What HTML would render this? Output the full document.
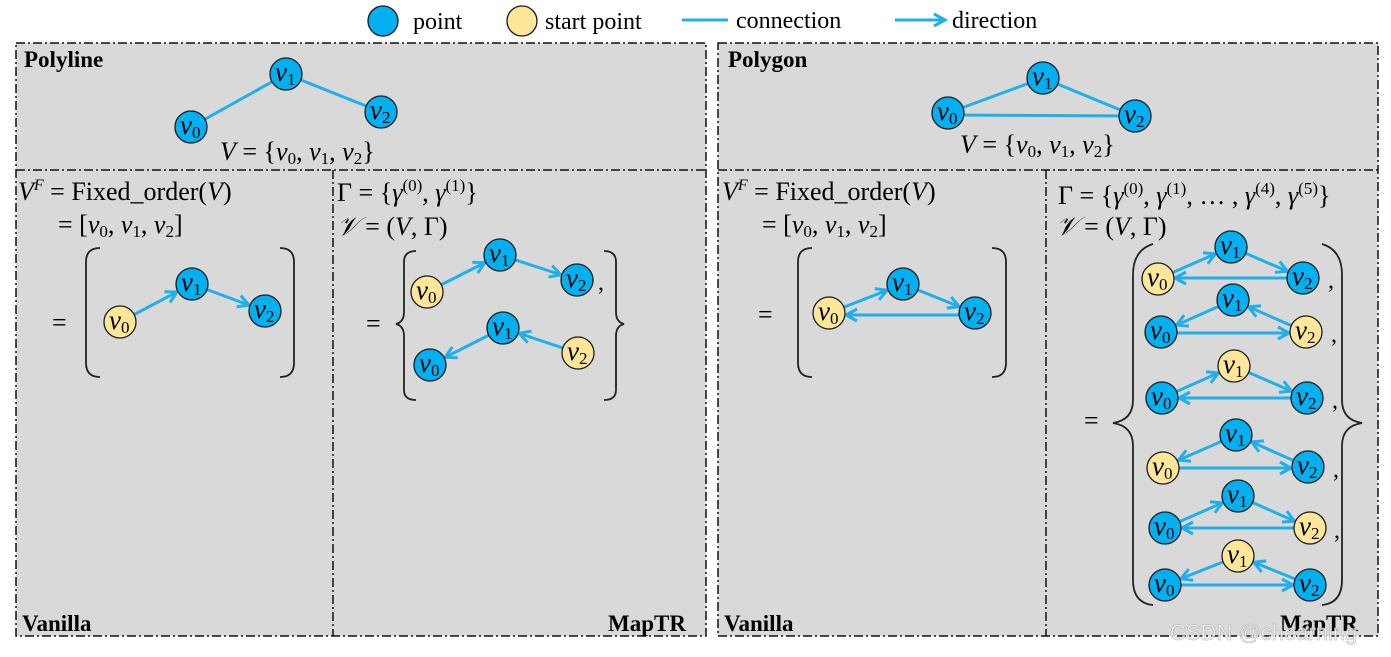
<!DOCTYPE html>
<html><head><meta charset="utf-8"><style>
html,body{margin:0;padding:0;background:#fff;}
svg{display:block;font-family:"Liberation Serif",serif;}
.n{stroke:#1a1a1a;stroke-width:1.3}
.b{fill:#00b0f0}.y{fill:#ffe699}
.l{stroke:#1fb0ec;stroke-width:3;fill:none}
.a{stroke:#1fb0ec;stroke-width:3;fill:none;marker-end:url(#ar)}
.t{font-size:27px;font-style:italic}
.t tspan{font-size:17px;font-style:normal}
.m{font-size:24px}
.q{font-size:26px}
.bd{font-weight:bold;font-size:23px}
.br{stroke:#222;stroke-width:1.8;fill:none}
</style></head><body>
<svg width="1391" height="657" viewBox="0 0 1391 657">
<defs>
<marker id="ar" markerUnits="userSpaceOnUse" markerWidth="60" markerHeight="14" refX="47" refY="7" orient="auto" overflow="visible">
<path d="M19,1 L30,7 L19,13" stroke="#1fb0ec" stroke-width="3" fill="none"/>
</marker>
<marker id="ar2" markerUnits="userSpaceOnUse" markerWidth="60" markerHeight="14" refX="30" refY="7" orient="auto" overflow="visible">
<path d="M19,1 L30,7 L19,13" stroke="#1fb0ec" stroke-width="3" fill="none"/>
</marker>
</defs>
<rect x="16" y="43" width="690" height="593" fill="#d9d9d9"/>
<rect x="718" y="43" width="660" height="593" fill="#d9d9d9"/>
<g stroke="#111" stroke-width="1.5" fill="none" stroke-dasharray="9 3 2 3">
<rect x="16" y="43" width="690" height="593"/>
<rect x="718" y="43" width="660" height="593"/>
<line x1="16" y1="170" x2="706" y2="170"/>
<line x1="718" y1="170" x2="1378" y2="170"/>
<line x1="333" y1="170" x2="333" y2="636"/>
<line x1="1046" y1="170" x2="1046" y2="636"/>
</g>
<circle class="n b" cx="383" cy="21" r="15"/>
<text x="413" y="29" class="m">point</text>
<circle class="n y" cx="522" cy="21" r="15"/>
<text x="545" y="29" class="m">start point</text>
<line class="l" x1="682" y1="20" x2="728" y2="20"/>
<text x="736" y="28" class="m">connection</text>
<line x1="895" y1="20" x2="945" y2="20" stroke="#1fb0ec" stroke-width="3" marker-end="url(#ar2)"/>
<text x="952" y="28" class="m">direction</text>
<text x="24" y="67" class="bd">Polyline</text>
<text x="728" y="67" class="bd">Polygon</text>
<text x="22" y="631" class="bd">Vanilla</text>
<text x="608" y="631" class="bd">MapTR</text>
<text x="724" y="631" class="bd">Vanilla</text>
<text x="1280" y="631" class="bd">MapTR</text>

<line class="l" x1="191" y1="127" x2="286" y2="74"/>
<line class="l" x1="286" y1="74" x2="381" y2="112"/>
<circle class="n b" cx="191" cy="127" r="16"/><text class="t" x="180" y="134">v<tspan dy="4">0</tspan></text>
<circle class="n b" cx="286" cy="74" r="16"/><text class="t" x="275" y="81">v<tspan dy="4">1</tspan></text>
<circle class="n b" cx="381" cy="112" r="16"/><text class="t" x="370" y="119">v<tspan dy="4">2</tspan></text>
<text x="220" y="160" class="q"><tspan font-style="italic">V</tspan> = {<tspan font-style="italic">v</tspan><tspan font-size="17" dy="4">0</tspan><tspan dy="-4">, </tspan><tspan font-style="italic">v</tspan><tspan font-size="17" dy="4">1</tspan><tspan dy="-4">, </tspan><tspan font-style="italic">v</tspan><tspan font-size="17" dy="4">2</tspan><tspan dy="-4">}</tspan></text>

<line class="l" x1="948" y1="113" x2="1043" y2="78"/>
<line class="l" x1="1043" y1="78" x2="1135" y2="116"/>
<line class="l" x1="948" y1="115" x2="1135" y2="116"/>
<circle class="n b" cx="948" cy="113" r="16"/><text class="t" x="937" y="120">v<tspan dy="4">0</tspan></text>
<circle class="n b" cx="1043" cy="78" r="16"/><text class="t" x="1032" y="85">v<tspan dy="4">1</tspan></text>
<circle class="n b" cx="1135" cy="116" r="16"/><text class="t" x="1124" y="123">v<tspan dy="4">2</tspan></text>
<text x="960" y="153" class="q"><tspan font-style="italic">V</tspan> = {<tspan font-style="italic">v</tspan><tspan font-size="17" dy="4">0</tspan><tspan dy="-4">, </tspan><tspan font-style="italic">v</tspan><tspan font-size="17" dy="4">1</tspan><tspan dy="-4">, </tspan><tspan font-style="italic">v</tspan><tspan font-size="17" dy="4">2</tspan><tspan dy="-4">}</tspan></text>

<text x="18" y="200" class="q"><tspan font-style="italic">V</tspan><tspan font-size="16" font-style="italic" dy="-10">F</tspan><tspan dy="10"> = Fixed_order(</tspan><tspan font-style="italic">V</tspan>)</text>
<text x="58" y="233" class="q">= [<tspan font-style="italic">v</tspan><tspan font-size="17" dy="4">0</tspan><tspan dy="-4">, </tspan><tspan font-style="italic">v</tspan><tspan font-size="17" dy="4">1</tspan><tspan dy="-4">, </tspan><tspan font-style="italic">v</tspan><tspan font-size="17" dy="4">2</tspan><tspan dy="-4">]</tspan></text>
<text x="52" y="331" class="q">=</text>
<path class="br" d="M100,248 Q86,248 86,262 L86,363 Q86,377 100,377"/>
<path class="br" d="M280,248 Q294,248 294,262 L294,363 Q294,377 280,377"/>
<line class="a" x1="120" y1="322" x2="192" y2="284"/>
<line class="a" x1="192" y1="284" x2="265" y2="311"/>
<circle class="n y" cx="120" cy="322" r="16"/><text class="t" x="109" y="329">v<tspan dy="4">0</tspan></text>
<circle class="n b" cx="192" cy="284" r="16"/><text class="t" x="181" y="291">v<tspan dy="4">1</tspan></text>
<circle class="n b" cx="265" cy="311" r="16"/><text class="t" x="254" y="318">v<tspan dy="4">2</tspan></text>

<text x="337" y="201" class="q">Γ = {<tspan font-style="italic">γ</tspan><tspan font-size="17" dy="-10">(0)</tspan><tspan dy="10">, </tspan><tspan font-style="italic">γ</tspan><tspan font-size="17" dy="-10">(1)</tspan><tspan dy="10">}</tspan></text>
<text x="337" y="235" class="q"><tspan font-style="italic">𝒱</tspan> = (<tspan font-style="italic">V</tspan>, Γ)</text>
<text x="366" y="332" class="q">=</text>
<path class="br" d="M416,251 Q404,251 404,262 L404,312 Q404,322 396,324 Q404,326 404,336 L404,390 Q404,400 416,400"/>
<path class="br" d="M604,251 Q616,251 616,262 L616,312 Q616,322 624,324 Q616,326 616,336 L616,390 Q616,400 604,400"/>
<line class="a" x1="427" y1="292" x2="500" y2="255"/>
<line class="a" x1="500" y1="255" x2="577" y2="280"/>
<line class="a" x1="578" y1="353" x2="503" y2="328"/>
<line class="a" x1="503" y1="328" x2="430" y2="365"/>
<circle class="n y" cx="427" cy="292" r="16"/><text class="t" x="416" y="299">v<tspan dy="4">0</tspan></text>
<circle class="n b" cx="500" cy="255" r="16"/><text class="t" x="489" y="262">v<tspan dy="4">1</tspan></text>
<circle class="n b" cx="577" cy="280" r="16"/><text class="t" x="566" y="287">v<tspan dy="4">2</tspan></text>
<text x="598" y="290" class="m">,</text>
<circle class="n b" cx="430" cy="365" r="16"/><text class="t" x="419" y="372">v<tspan dy="4">0</tspan></text>
<circle class="n b" cx="503" cy="328" r="16"/><text class="t" x="492" y="335">v<tspan dy="4">1</tspan></text>
<circle class="n y" cx="578" cy="353" r="16"/><text class="t" x="567" y="360">v<tspan dy="4">2</tspan></text>

<text x="722" y="200" class="q"><tspan font-style="italic">V</tspan><tspan font-size="16" font-style="italic" dy="-10">F</tspan><tspan dy="10"> = Fixed_order(</tspan><tspan font-style="italic">V</tspan>)</text>
<text x="762" y="233" class="q">= [<tspan font-style="italic">v</tspan><tspan font-size="17" dy="4">0</tspan><tspan dy="-4">, </tspan><tspan font-style="italic">v</tspan><tspan font-size="17" dy="4">1</tspan><tspan dy="-4">, </tspan><tspan font-style="italic">v</tspan><tspan font-size="17" dy="4">2</tspan><tspan dy="-4">]</tspan></text>
<text x="758" y="323" class="q">=</text>
<path class="br" d="M812,248 Q798,248 798,262 L798,363 Q798,377 812,377"/>
<path class="br" d="M992,248 Q1006,248 1006,262 L1006,363 Q1006,377 992,377"/>
<line class="a" x1="829" y1="313" x2="903" y2="284"/>
<line class="a" x1="903" y1="284" x2="975" y2="313"/>
<line class="a" x1="975" y1="315" x2="829" y2="315"/>
<circle class="n y" cx="829" cy="313" r="16"/><text class="t" x="818" y="320">v<tspan dy="4">0</tspan></text>
<circle class="n b" cx="903" cy="284" r="16"/><text class="t" x="892" y="291">v<tspan dy="4">1</tspan></text>
<circle class="n b" cx="975" cy="313" r="16"/><text class="t" x="964" y="320">v<tspan dy="4">2</tspan></text>

<text x="1058" y="204" class="q">Γ = {<tspan font-style="italic">γ</tspan><tspan font-size="17" dy="-10">(0)</tspan><tspan dy="10">, </tspan><tspan font-style="italic">γ</tspan><tspan font-size="17" dy="-10">(1)</tspan><tspan dy="10">, … , </tspan><tspan font-style="italic">γ</tspan><tspan font-size="17" dy="-10">(4)</tspan><tspan dy="10">, </tspan><tspan font-style="italic">γ</tspan><tspan font-size="17" dy="-10">(5)</tspan><tspan dy="10">}</tspan></text>
<text x="1056" y="235" class="q"><tspan font-style="italic">𝒱</tspan> = (<tspan font-style="italic">V</tspan>, Γ)</text>
<text x="1084" y="429" class="q">=</text>
<path class="br" d="M1153,244 Q1133,250 1133,275 L1133,400 Q1133,420 1113,423 Q1133,426 1133,446 L1133,580 Q1133,603 1153,605"/>
<path class="br" d="M1322,244 Q1342,250 1342,275 L1342,400 Q1342,420 1362,423 Q1342,426 1342,446 L1342,580 Q1342,603 1322,605"/>

<line class="a" x1="1158" y1="279" x2="1231" y2="247"/>
<line class="a" x1="1231" y1="247" x2="1303" y2="278"/>
<line class="a" x1="1303" y1="278" x2="1158" y2="278"/>
<circle class="n y" cx="1158" cy="279" r="16"/><text class="t" x="1147" y="286">v<tspan dy="4">0</tspan></text>
<circle class="n b" cx="1231" cy="247" r="16"/><text class="t" x="1220" y="254">v<tspan dy="4">1</tspan></text>
<circle class="n b" cx="1303" cy="278" r="16"/><text class="t" x="1292" y="285">v<tspan dy="4">2</tspan></text>
<text x="1328" y="288" class="m">,</text>
<line class="a" x1="1306" y1="332" x2="1233" y2="300"/>
<line class="a" x1="1233" y1="300" x2="1161" y2="332"/>
<line class="a" x1="1161" y1="333" x2="1306" y2="333"/>
<circle class="n b" cx="1161" cy="332" r="16"/><text class="t" x="1150" y="339">v<tspan dy="4">0</tspan></text>
<circle class="n b" cx="1233" cy="300" r="16"/><text class="t" x="1222" y="307">v<tspan dy="4">1</tspan></text>
<circle class="n y" cx="1306" cy="332" r="16"/><text class="t" x="1295" y="339">v<tspan dy="4">2</tspan></text>
<text x="1331" y="342" class="m">,</text>
<line class="a" x1="1162" y1="398" x2="1234" y2="366"/>
<line class="a" x1="1234" y1="366" x2="1307" y2="398"/>
<line class="a" x1="1307" y1="398" x2="1162" y2="398"/>
<circle class="n b" cx="1162" cy="398" r="16"/><text class="t" x="1151" y="405">v<tspan dy="4">0</tspan></text>
<circle class="n y" cx="1234" cy="366" r="16"/><text class="t" x="1223" y="373">v<tspan dy="4">1</tspan></text>
<circle class="n b" cx="1307" cy="398" r="16"/><text class="t" x="1296" y="405">v<tspan dy="4">2</tspan></text>
<text x="1332" y="408" class="m">,</text>
<line class="a" x1="1308" y1="467" x2="1236" y2="435"/>
<line class="a" x1="1236" y1="435" x2="1163" y2="467"/>
<line class="a" x1="1163" y1="468" x2="1308" y2="468"/>
<circle class="n y" cx="1163" cy="468" r="16"/><text class="t" x="1152" y="475">v<tspan dy="4">0</tspan></text>
<circle class="n b" cx="1236" cy="435" r="16"/><text class="t" x="1225" y="442">v<tspan dy="4">1</tspan></text>
<circle class="n b" cx="1308" cy="467" r="16"/><text class="t" x="1297" y="474">v<tspan dy="4">2</tspan></text>
<text x="1333" y="477" class="m">,</text>
<line class="a" x1="1165" y1="528" x2="1238" y2="496"/>
<line class="a" x1="1238" y1="496" x2="1310" y2="528"/>
<line class="a" x1="1310" y1="528" x2="1165" y2="528"/>
<circle class="n b" cx="1165" cy="528" r="16"/><text class="t" x="1154" y="535">v<tspan dy="4">0</tspan></text>
<circle class="n b" cx="1238" cy="496" r="16"/><text class="t" x="1227" y="503">v<tspan dy="4">1</tspan></text>
<circle class="n y" cx="1310" cy="528" r="16"/><text class="t" x="1299" y="535">v<tspan dy="4">2</tspan></text>
<text x="1334" y="538" class="m">,</text>
<line class="a" x1="1238" y1="556" x2="1165" y2="585"/>
<line class="a" x1="1165" y1="585" x2="1310" y2="585"/>
<line class="a" x1="1310" y1="585" x2="1238" y2="556"/>
<circle class="n b" cx="1165" cy="585" r="16"/><text class="t" x="1154" y="592">v<tspan dy="4">0</tspan></text>
<circle class="n y" cx="1238" cy="556" r="16"/><text class="t" x="1227" y="563">v<tspan dy="4">1</tspan></text>
<circle class="n b" cx="1310" cy="585" r="16"/><text class="t" x="1299" y="592">v<tspan dy="4">2</tspan></text>

<text x="1170" y="640" font-family="Liberation Sans, sans-serif" font-size="22" fill="#fff" stroke="#bbb" stroke-width="0.8" opacity="0.85">CSDN @chearning</text>
</svg>
</body></html>
